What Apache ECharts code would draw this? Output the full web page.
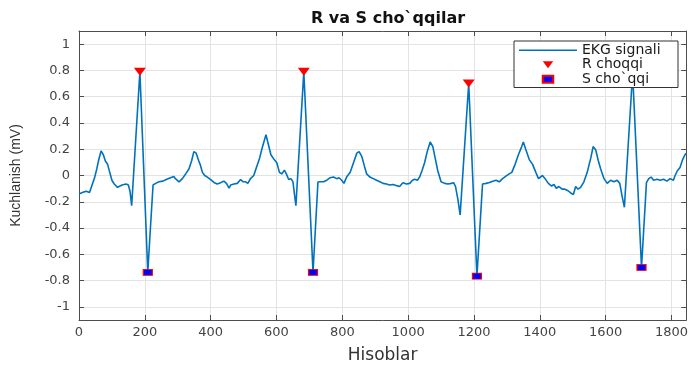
<!DOCTYPE html>
<html><head><meta charset="utf-8">
<script src="https://cdn.jsdelivr.net/npm/echarts@6/dist/echarts.min.js"></script>
<style>html,body{margin:0;padding:0;background:#fff}#c{width:691px;height:369px}</style>
</head><body><div id="c"></div>
<script>
// EKG signal sample indices and amplitudes (mV)
const ekgX = [0,10,22,32,40,47,54,60,67,74,80,87,92,100,107,117,122,131,135,143,150,155,160,185,209,217,225,233,243,255,265,278,288,293,304,314,324,334,342,349,356,364,368,375,382,390,400,410,420,430,440,448,456,461,471,481,491,499,506,513,521,531,539,549,556,568,576,583,593,601,609,616,624,630,637,644,650,655,659,683,711,726,733,743,753,763,773,783,790,798,805,813,824,834,844,851,859,867,874,884,894,904,914,924,934,944,954,964,974,984,995,1005,1013,1020,1028,1035,1042,1050,1058,1067,1075,1082,1090,1100,1111,1121,1131,1138,1144,1151,1158,1184,1209,1226,1237,1247,1257,1267,1277,1287,1297,1307,1315,1325,1335,1345,1350,1358,1368,1378,1388,1396,1408,1416,1426,1436,1443,1450,1458,1468,1476,1486,1494,1502,1509,1516,1524,1534,1544,1555,1562,1570,1578,1585,1595,1605,1615,1625,1635,1643,1650,1657,1682,1709,1724,1731,1738,1746,1756,1766,1776,1786,1796,1806,1811,1818,1826,1834,1841,1845];
const ekgY = [-0.14,-0.13,-0.12,-0.13,-0.07,-0.02,0.05,0.12,0.187,0.158,0.11,0.085,0.037,-0.036,-0.065,-0.09,-0.08,-0.072,-0.06,-0.065,-0.072,-0.12,-0.23,0.79,-0.737,-0.40,-0.072,-0.06,-0.048,-0.043,-0.03,-0.017,-0.007,-0.024,-0.048,-0.024,0.012,0.049,0.11,0.182,0.17,0.11,0.085,0.024,0.0,-0.012,-0.031,-0.053,-0.065,-0.055,-0.043,-0.06,-0.097,-0.072,-0.065,-0.06,-0.031,-0.048,-0.048,-0.06,-0.024,0.0,0.061,0.134,0.206,0.31,0.23,0.158,0.121,0.097,0.024,0.012,0.041,0.012,-0.031,-0.024,-0.048,-0.15,-0.23,0.79,-0.737,-0.05,-0.048,-0.048,-0.036,-0.017,-0.012,-0.024,-0.017,-0.036,-0.06,-0.012,0.024,0.097,0.17,0.182,0.146,0.073,0.012,-0.012,-0.024,-0.036,-0.048,-0.06,-0.065,-0.072,-0.068,-0.077,-0.084,-0.055,-0.065,-0.06,-0.036,-0.029,-0.036,-0.012,0.036,0.097,0.182,0.255,0.22,0.134,0.036,-0.048,-0.06,-0.065,-0.06,-0.055,-0.084,-0.18,-0.30,0.70,-0.766,-0.065,-0.06,-0.053,-0.043,-0.036,-0.048,-0.024,-0.005,0.012,0.024,0.085,0.158,0.22,0.255,0.194,0.121,0.085,0.024,-0.024,0.0,-0.024,-0.06,-0.08,-0.068,-0.097,-0.084,-0.104,-0.104,-0.116,-0.133,-0.145,-0.084,-0.104,-0.09,-0.048,0.024,0.134,0.22,0.194,0.11,0.049,-0.024,-0.06,-0.036,-0.048,-0.036,-0.06,-0.157,-0.242,0.78,-0.70,-0.055,-0.024,-0.012,-0.036,-0.029,-0.036,-0.029,-0.043,-0.024,-0.036,0.0,0.036,0.061,0.121,0.158,0.17];
// R peaks
const rX = [185,683,1184,1682];
const rY = [0.79,0.79,0.70,0.78];
// S peaks
const sX = [209,711,1209,1709];
const sY = [-0.737,-0.737,-0.766,-0.70];
// Tick labels
const yTicks = [-1,-0.8,-0.6,-0.4,-0.2,0,0.2,0.4,0.6,0.8,1];
const xTickStep = 200;

const zip = (a,b)=>a.map((v,i)=>[v,b[i]]);
const chart = echarts.init(document.getElementById('c'));
const wide = 'DejaVu Sans, sans-serif';
const narrow = 'Liberation Sans, Arial, sans-serif';
const axisCol = '#4d4d4d';
const lineCol = '#0072BD';
const triPath = 'path://M0,0L12,0L6,8Z';
const rectPath = 'path://M0,0L9,0L9,6L0,6Z';
const linePath = 'path://M0,0L58,0L58,1.5L0,1.5Z';
chart.setOption({
  animation:false,
  title:{text:'R va S cho`qqilar',left:383,textAlign:'center',top:6,
    textStyle:{fontFamily:wide,fontSize:16,fontWeight:'bold',color:'#111'}},
  grid:{left:79,right:1,top:31,bottom:35},
  legend:{orient:'vertical',right:13,top:41,itemGap:0,itemWidth:58,itemHeight:7,
    padding:[2,10,1,5],backgroundColor:'#fff',borderColor:'#333',borderWidth:1,
    textStyle:{fontFamily:wide,fontSize:14,lineHeight:14.5,width:86,color:'#1a1a1a'},
    data:[{name:'EKG signali',icon:linePath,itemStyle:{color:lineCol}},
          {name:'R choqqi',icon:triPath},{name:'S cho`qqi',icon:rectPath}]},
  xAxis:[{type:'value',min:0,max:1845,interval:xTickStep,
    name:'Hisoblar',nameLocation:'middle',nameGap:27,
    nameTextStyle:{fontFamily:wide,fontSize:17,color:'#333'},
    axisLine:{onZero:false,lineStyle:{color:axisCol}},
    axisTick:{inside:true,length:5,lineStyle:{color:axisCol}},
    axisLabel:{fontFamily:wide,fontSize:13,color:'#444',margin:6,
      formatter:v=>(v%xTickStep===0?String(v):'')},
    splitLine:{show:true,lineStyle:{color:'#e3e3e3'}}},
   {type:'value',position:'top',min:0,max:1845,interval:xTickStep,
    axisLine:{onZero:false,lineStyle:{color:axisCol}},
    axisTick:{inside:true,length:5,lineStyle:{color:axisCol}},
    axisLabel:{show:false},splitLine:{show:false}}],
  yAxis:[{type:'value',min:-1.1,max:1.1,
    name:'Kuchlanish (mV)',nameLocation:'middle',nameGap:56,
    nameTextStyle:{fontFamily:narrow,fontSize:14,color:'#333'},
    axisLine:{show:true,onZero:false,lineStyle:{color:axisCol}},
    axisTick:{show:true,inside:true,length:5,customValues:yTicks,lineStyle:{color:axisCol}},
    axisLabel:{fontFamily:wide,fontSize:13,color:'#444',margin:9,customValues:yTicks,
      formatter:v=>String(Math.round(v*10)/10)},
    splitLine:{show:true,lineStyle:{color:'#e3e3e3'}}},
   {type:'value',position:'right',min:-1.1,max:1.1,
    axisLine:{show:true,onZero:false,lineStyle:{color:axisCol}},
    axisTick:{show:true,inside:true,length:5,customValues:yTicks,lineStyle:{color:axisCol}},
    axisLabel:{show:false},splitLine:{show:false}}],
  series:[
    {name:'EKG signali',type:'line',data:zip(ekgX,ekgY),showSymbol:false,symbol:'none',
     lineStyle:{color:lineCol,width:1.6},itemStyle:{color:lineCol},z:2},
    {name:'R choqqi',type:'scatter',data:zip(rX,rY),symbol:triPath,symbolSize:[12,8],
     itemStyle:{color:'#ff0000',opacity:1},z:3},
    {name:'S cho`qqi',type:'scatter',data:zip(sX,sY),symbol:rectPath,symbolSize:[9,6],
     itemStyle:{color:'#0000ff',borderColor:'#ff0000',borderWidth:1,opacity:1},z:3}
  ]
});
</script></body></html>
